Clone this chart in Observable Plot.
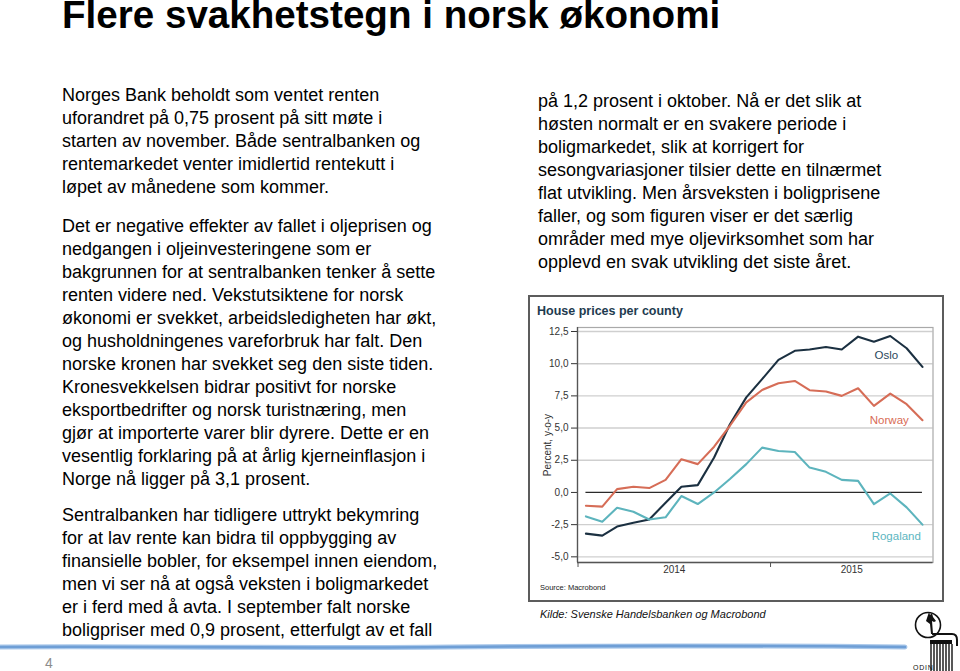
<!DOCTYPE html>
<html>
<head>
<meta charset="utf-8">
<script src="https://cdn.jsdelivr.net/npm/d3@7"></script>
<script src="https://cdn.jsdelivr.net/npm/@observablehq/plot@0.6"></script>
<style>
  html, body { margin: 0; padding: 0; }
  body { width: 960px; height: 671px; position: relative; overflow: hidden; background: #fff;
         font-family: "Liberation Sans", Arial, Helvetica, sans-serif; color: #000; }
  .abs { position: absolute; white-space: nowrap; }
  .title { left: 62px; top: 0px; font-size: 38.6px; line-height: 30px; font-weight: bold; }
  .para { font-size: 18px; line-height: 23px; }
  .box { position: absolute; left: 528px; top: 295px; width: 416px; height: 307px;
         border: 2px solid #5c5c5c; box-sizing: border-box; }
  .ctitle { left: 537px; top: 302.7px; font-size: 12.5px; line-height: 16px; font-weight: bold; color: #1e3b4f; }
  .src { left: 540px; top: 583.4px; font-size: 7.5px; line-height: 10px; color: #222; }
  .cap { left: 540px; top: 607px; font-size: 11px; line-height: 14px; font-style: italic; color: #111; }
  .pg { left: 45px; top: 655px; font-size: 14px; line-height: 16px; color: #8c8c8c; }
  #chart { position: absolute; left: 529px; top: 318px; }
</style>
</head>
<body>
<div class="abs title">Flere svakhetstegn i norsk økonomi</div>

<div class="abs para" style="left:62px; top:84px;">Norges Bank beholdt som ventet renten<br>uforandret på 0,75 prosent på sitt møte i<br>starten av november. Både sentralbanken og<br>rentemarkedet venter imidlertid rentekutt i<br>løpet av månedene som kommer.</div>

<div class="abs para" style="left:62px; top:215px;">Det er negative effekter av fallet i oljeprisen og<br>nedgangen i oljeinvesteringene som er<br>bakgrunnen for at sentralbanken tenker å sette<br>renten videre ned. Vekstutsiktene for norsk<br>økonomi er svekket, arbeidsledigheten har økt,<br>og husholdningenes vareforbruk har falt. Den<br>norske kronen har svekket seg den siste tiden.<br>Kronesvekkelsen bidrar positivt for norske<br>eksportbedrifter og norsk turistnæring, men<br>gjør at importerte varer blir dyrere. Dette er en<br>vesentlig forklaring på at årlig kjerneinflasjon i<br>Norge nå ligger på 3,1 prosent.</div>

<div class="abs para" style="left:62px; top:504px;">Sentralbanken har tidligere uttrykt bekymring<br>for at lav rente kan bidra til oppbygging av<br>finansielle bobler, for eksempel innen eiendom,<br>men vi ser nå at også veksten i boligmarkedet<br>er i ferd med å avta. I september falt norske<br>boligpriser med 0,9 prosent, etterfulgt av et fall</div>

<div class="abs para" style="left:538px; top:90px;">på 1,2 prosent i oktober. Nå er det slik at<br>høsten normalt er en svakere periode i<br>boligmarkedet, slik at korrigert for<br>sesongvariasjoner tilsier dette en tilnærmet<br>flat utvikling. Men årsveksten i boligprisene<br>faller, og som figuren viser er det særlig<br>områder med mye oljevirksomhet som har<br>opplevd en svak utvikling det siste året.</div>

<div class="box"></div>
<div class="abs ctitle">House prices per county</div>
<div id="chart"></div>
<div class="abs src">Source: Macrobond</div>
<div class="abs cap">Kilde: Svenske Handelsbanken og Macrobond</div>

<svg class="abs" style="left:0; top:640px;" width="910" height="15">
  <path d="M0,7 C150,6 300,8.6 450,7 S750,5.6 905,7" fill="none" stroke="#aac8ea" stroke-width="5" stroke-linecap="round"/>
  <path d="M0,7 C150,6 300,8.6 450,7 S750,5.6 905,7" fill="none" stroke="#6f9fd6" stroke-width="2.6" stroke-linecap="round"/>
</svg>
<div class="abs pg">4</div>

<svg class="abs" style="left:895px; top:600px;" width="65" height="71">
  <circle cx="33" cy="25" r="12.5" fill="none" stroke="#111" stroke-width="1.6"/>
  <path d="M31,21 L33,15 L34,12 L35,15 L37,13 L38,17 L41,21 L39,22 L37,21 L38,34 L36,34 L35,24 Z" fill="#111"/>
  <path d="M37,34 L57,34 Q62,34 62,40 L62,46" fill="none" stroke="#111" stroke-width="2"/>
  <rect x="35" y="40" width="22" height="4" fill="#111"/>
  <g stroke="#111" stroke-width="1.4">
    <line x1="36" y1="44" x2="36" y2="71"/><line x1="39" y1="44" x2="39" y2="71"/>
    <line x1="42" y1="44" x2="42" y2="71"/><line x1="45" y1="44" x2="45" y2="71"/>
    <line x1="48" y1="44" x2="48" y2="71"/><line x1="51" y1="44" x2="51" y2="71"/>
    <line x1="54" y1="44" x2="54" y2="71"/><line x1="57" y1="44" x2="57" y2="71"/>
  </g>
  <text x="18" y="69.5" font-size="7" letter-spacing="0.8" fill="#111" font-family="Liberation Sans, Arial, sans-serif">ODIN</text>
</svg>

<script>
// ---- data ----
const months = ["2014-01","2014-02","2014-03","2014-04","2014-05","2014-06",
                "2014-07","2014-08","2014-09","2014-10","2014-11","2014-12",
                "2015-01","2015-02","2015-03","2015-04","2015-05","2015-06",
                "2015-07","2015-08","2015-09","2015-10"];
const seriesNames = ["Oslo", "Norway", "Rogaland"];
const oslo     = [-3.2, -3.35, -2.65, -2.35, -2.1, -0.8, 0.44, 0.57, 2.72, 5.3, 7.38, 8.8,
                  10.3, 11.0, 11.1, 11.3, 11.1, 12.1, 11.7, 12.15, 11.2, 9.75];
const norway   = [-1.03, -1.1, 0.26, 0.44, 0.34, 0.98, 2.58, 2.2, 3.55, 5.18, 6.99, 7.96,
                  8.48, 8.66, 7.94, 7.84, 7.5, 8.09, 6.72, 7.68, 6.85, 5.61];
const rogaland = [-1.86, -2.27, -1.19, -1.5, -2.1, -1.93, -0.28, -0.9, 0.0, 1.04, 2.2, 3.48,
                  3.22, 3.14, 1.93, 1.6, 0.98, 0.9, -0.9, -0.08, -1.16, -2.5];
const yTicks = [-5, -2.5, 0, 2.5, 5, 7.5, 10, 12.5];
const yearLabels = ["2014", "2015"];
const labelMonth = "2015-08";

// ---- styles ----
const colors = ["#1b3041", "#d66d57", "#5db4bd"];
const labelColors = ["#2a475b", "#d86b55", "#5cb6c1"];
const labelOffsets = {Oslo: [-4, 19], Norway: [-1, 26.5], Rogaland: [6, 42.5]};

const toDate = m => new Date(Date.UTC(+m.slice(0, 4), +m.slice(5, 7) - 1, 16));
const values = {Oslo: oslo, Norway: norway, Rogaland: rogaland};
const data = seriesNames.flatMap(s => months.map((m, i) => ({series: s, month: m, date: toDate(m), value: values[s][i]})));

const xDomain = [new Date(Date.UTC(2013, 11, 31)), new Date(Date.UTC(2015, 10, 5))];
const yDomain = [-5.44, 12.81];
const yearStarts = yearLabels.map(y => new Date(Date.UTC(+y, 0, 1)));
const yearMid = yearLabels.map(y => {
  const a = Math.max(+new Date(Date.UTC(+y, 0, 1)), +xDomain[0]);
  const b = Math.min(+new Date(Date.UTC(+y + 1, 0, 1)), +xDomain[1]);
  return {label: y, date: new Date((a + b) / 2)};
});
const firstDate = toDate(months[0]), lastDate = toDate(months[months.length - 1]);
const fmt = d => d.toFixed(1).replace(".", ",");

const marks = [
  Plot.gridY(yTicks.filter(d => d !== 0), {stroke: "#cfcfcf", strokeOpacity: 1, strokeWidth: 1.4}),
  Plot.frame({stroke: "#a9a9a9", strokeWidth: 1.2}),
  Plot.ruleY([0], {x1: () => firstDate, x2: () => lastDate, stroke: "#2a2a2a", strokeWidth: 1.2}),
  Plot.axisY(yTicks, {tickSize: 6, tickPadding: 3, tickFormat: fmt, fontSize: 10, color: "#333",
                      label: "Percent, y-o-y", labelAnchor: "center", labelArrow: "none", labelOffset: 34}),
  Plot.ruleX([xDomain[0]], {stroke: "#555", strokeWidth: 1.3}),
  Plot.ruleY([yDomain[0]], {stroke: "#555", strokeWidth: 1.3}),
  Plot.axisX(yearStarts, {tickSize: 5, tickFormat: () => "", color: "#555", label: null}),
  Plot.text(yearMid, {x: "date", frameAnchor: "bottom", dy: 10.5, text: "label", fontSize: 10, fill: "#333"}),
  Plot.line(data, {x: "date", y: "value", z: "series", stroke: "series", strokeWidth: 2.1, strokeLinejoin: "round"})
];
seriesNames.forEach((s, i) => {
  marks.push(Plot.text(data.filter(d => d.series === s && d.month === labelMonth),
    {x: "date", y: "value", text: () => s, dx: labelOffsets[s][0], dy: labelOffsets[s][1],
     fill: labelColors[i], fontSize: 11.5}));
});

const chart = Plot.plot({
  width: 414, height: 262,
  marginLeft: 48, marginRight: 10.5, marginTop: 9, marginBottom: 18,
  style: {fontFamily: "Liberation Sans, Arial, sans-serif", fontSize: "10px", background: "transparent", overflow: "visible"},
  x: {type: "utc", domain: xDomain},
  y: {domain: yDomain},
  color: {domain: seriesNames, range: colors},
  marks
});
document.getElementById("chart").appendChild(chart);
</script>
</body>
</html>
